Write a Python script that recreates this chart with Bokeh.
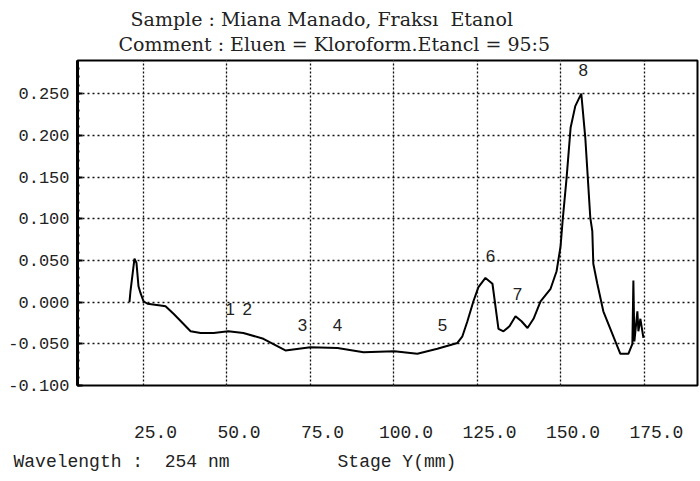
from bokeh.plotting import figure
from bokeh.models import (Range1d, LinearAxis, FixedTicker, PrintfTickFormatter,
                          Grid, Title, ColumnDataSource)
from bokeh.core.properties import value
from bokeh.embed import file_html
from bokeh.resources import INLINE

# ---- data ----
stage_mm = [20.8, 21.1, 22.3, 22.9, 23.5, 24.1, 25.0, 26.2, 30.1, 31.6, 34.0, 36.7,
            39.1, 42.1, 46.0, 50.4, 54.9, 60.9, 67.5, 75.0, 83.1, 90.9, 100.1, 107.0,
            113.0, 119.0, 120.5, 122.0, 123.8, 125.3, 127.4, 129.5, 131.3, 132.8,
            134.6, 136.4, 138.2, 140.0, 141.8, 143.9, 146.9, 148.7, 149.9, 150.5,
            151.7, 152.9, 154.3, 156.1, 157.3, 158.8, 159.4, 159.7, 160.9, 162.7,
            165.4, 167.8, 170.2, 171.4, 171.7, 172.0, 172.9, 173.2, 173.8, 174.7]
absorbance = [0.000, 0.013, 0.052, 0.047, 0.019, 0.011, 0.001, -0.002, -0.004, -0.005,
              -0.014, -0.025, -0.035, -0.037, -0.037, -0.035, -0.037, -0.044, -0.058,
              -0.054, -0.055, -0.060, -0.059, -0.062, -0.056, -0.049, -0.041, -0.023,
              0.001, 0.018, 0.029, 0.022, -0.032, -0.035, -0.029, -0.017, -0.023,
              -0.031, -0.020, 0.001, 0.016, 0.037, 0.067, 0.097, 0.149, 0.209, 0.235,
              0.250, 0.197, 0.101, 0.085, 0.046, 0.022, -0.011, -0.038, -0.062, -0.062,
              -0.050, 0.026, -0.047, -0.011, -0.035, -0.020, -0.043]

peak_labels = ["1", "2", "3", "4", "5", "6", "7", "8"]
peak_label_x = [51.0, 56.1, 72.6, 83.1, 114.5, 128.9, 137.0, 156.7]
peak_label_y = [-0.008, -0.008, -0.028, -0.028, -0.028, 0.055, 0.010, 0.278]

x_ticks = [25, 50, 75, 100, 125, 150, 175]
y_ticks = [-0.100, -0.050, 0.000, 0.050, 0.100, 0.150, 0.200, 0.250]

NB = "\u00a0"
title_line1 = NB * 2 + "Sample : Miana Manado, Fraksı" + NB + " Etanol"
title_line2 = "Comment : Eluen = Kloroform.Etancl = 95:5"
x_axis_title = "Stage Y(mm)"
wavelength_text = "Wavelength :" + NB * 2 + "254 nm"
footer_text = wavelength_text + NB * 10 + x_axis_title

MONO = "Liberation Mono"
SERIF = "DejaVu Serif"

X0, X1 = 5.24, 190.9
Y0, Y1 = -0.1, 0.2897

p = figure(width=700, height=481, output_backend="svg", toolbar_location=None,
           x_range=Range1d(X0, X1), y_range=Range1d(Y0, Y1),
           x_axis_location=None, y_axis_location="left",
           min_border_left=77, min_border_right=3, min_border_top=60,
           min_border_bottom=96)
p.background_fill_color = "white"
p.border_fill_color = "white"
p.outline_line_color = "black"
p.outline_line_width = 2

# two-line header
header = Title(text=title_line1 + "\n" + title_line2, align="left", offset=118 - 77,
               text_font=SERIF, text_font_size="19px", text_font_style="normal",
               text_line_height=1.15, text_color="#222", standoff=11)
p.add_layout(header, "above")

# y axis
ya = p.yaxis[0]
ya.ticker = FixedTicker(ticks=y_ticks, minor_ticks=[round(-0.1 + 0.01 * i, 3) for i in range(39)])
ya.formatter = PrintfTickFormatter(format="%.3f")
ya.major_label_text_font = MONO
ya.major_label_text_font_size = "17px"
ya.major_label_text_color = "#222"
ya.major_label_standoff = 8
ya.axis_line_width = 3
ya.axis_line_color = "black"
ya.major_tick_in = 5
ya.major_tick_out = 0
ya.major_tick_line_width = 2
ya.minor_tick_in = 2
ya.minor_tick_out = 0
ya.minor_tick_line_width = 2

p.ygrid.ticker = FixedTicker(ticks=y_ticks)
p.ygrid.grid_line_color = "#111"
p.ygrid.grid_line_dash = "2 3"
p.ygrid.grid_line_width = 1.3

xgrid = Grid(dimension=0, ticker=FixedTicker(ticks=x_ticks), grid_line_color="#111",
             grid_line_dash="2 2", grid_line_width=1.3)
p.add_layout(xgrid)

# x tick labels printed slightly to the right of the grid lines
p.extra_x_ranges = {"lab": Range1d(X0 - 3.6, X1 - 3.6)}
xa = LinearAxis(x_range_name="lab", ticker=FixedTicker(ticks=x_ticks),
                formatter=PrintfTickFormatter(format="%.1f"))
xa.axis_line_color = None
xa.major_tick_line_color = None
xa.minor_tick_line_color = None
xa.major_label_text_font = MONO
xa.major_label_text_font_size = "18px"
xa.major_label_text_color = "#222"
xa.major_label_standoff = 34
p.add_layout(xa, "below")

# footer row: wavelength note and the x axis title, as printed by the instrument
foot = Title(text=footer_text, align="left", offset=13 - 77, text_font=MONO,
             text_font_size="18px", text_font_style="normal", text_color="#222",
             standoff=19)
p.add_layout(foot, "below")

src = ColumnDataSource(dict(x=stage_mm, y=absorbance))
p.line("x", "y", source=src, line_color="black", line_width=2)

lsrc = ColumnDataSource(dict(x=peak_label_x, y=peak_label_y, t=peak_labels))
p.text("x", "y", text="t", source=lsrc, text_font=value("Liberation Sans"),
       text_font_size="17px", text_align="center", text_baseline="middle",
       text_color="#222")

open("out.html", "w").write(file_html(p, INLINE))
